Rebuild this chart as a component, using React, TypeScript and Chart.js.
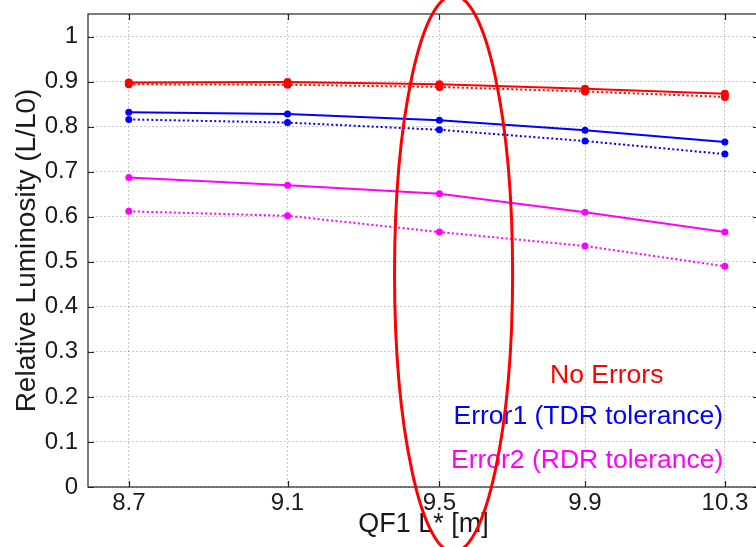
import { useEffect, useRef } from "react";
import { Chart, registerables } from "chart.js";

Chart.register(...registerables);

const xValues = [8.7, 9.1, 9.5, 9.9, 10.3];
const xTickValues = [8.7, 9.1, 9.5, 9.9, 10.3];
const yTickValues = [0, 0.1, 0.2, 0.3, 0.4, 0.5, 0.6, 0.7, 0.8, 0.9, 1];

const noErrorsSolid = [0.898, 0.899, 0.894, 0.884, 0.873];
const noErrorsDotted = [0.894, 0.893, 0.888, 0.878, 0.866];
const error1Solid = [0.832, 0.828, 0.814, 0.792, 0.766];
const error1Dotted = [0.816, 0.809, 0.793, 0.768, 0.739];
const error2Solid = [0.687, 0.67, 0.651, 0.61, 0.566];
const error2Dotted = [0.612, 0.602, 0.566, 0.535, 0.49];

const seriesColors = ["#ff0000", "#0000ff", "#ff00ff"];
const legendLabels = ["No Errors", "Error1 (TDR tolerance)", "Error2 (RDR tolerance)"];
const legendX = [9.961, 9.909, 9.906];
const legendY = [0.248, 0.155, 0.058];

// highlight ellipse bounds in data units: [xMin, xMax], [yMin, yMax]
const ellipseX = [9.38, 9.699];
const ellipseY = [-0.144, 1.091];

const FONT = "'Liberation Sans', Arial, Helvetica, sans-serif";

const toPoints = (ys: number[]) => ys.map((y, i) => ({ x: xValues[i], y }));

const overlayPlugin = {
  id: "overlay",
  afterDraw(chart: any) {
    const { ctx, chartArea, scales } = chart;
    const xs = scales.x;
    const ys = scales.y;
    ctx.save();
    // frame
    ctx.strokeStyle = "#262626";
    ctx.lineWidth = 1.2;
    ctx.strokeRect(chartArea.left, chartArea.top, chartArea.right - chartArea.left, chartArea.bottom - chartArea.top);
    // inward ticks
    const tl = 6;
    ctx.beginPath();
    xTickValues.forEach((v) => {
      const px = Math.round(xs.getPixelForValue(v)) + 0.5;
      ctx.moveTo(px, chartArea.bottom);
      ctx.lineTo(px, chartArea.bottom - tl);
      ctx.moveTo(px, chartArea.top);
      ctx.lineTo(px, chartArea.top + tl);
    });
    yTickValues.forEach((v) => {
      const py = Math.round(ys.getPixelForValue(v)) + 0.5;
      ctx.moveTo(chartArea.left, py);
      ctx.lineTo(chartArea.left + tl, py);
      ctx.moveTo(chartArea.right, py);
      ctx.lineTo(chartArea.right - tl, py);
    });
    ctx.stroke();

    // legend texts
    ctx.font = `26.5px ${FONT}`;
    ctx.textAlign = "center";
    ctx.textBaseline = "middle";
    legendLabels.forEach((t, i) => {
      ctx.fillStyle = seriesColors[i];
      ctx.fillText(t, xs.getPixelForValue(legendX[i]), ys.getPixelForValue(legendY[i]));
    });

    // ellipse annotation
    const x0 = xs.getPixelForValue(ellipseX[0]);
    const x1 = xs.getPixelForValue(ellipseX[1]);
    const y0 = ys.getPixelForValue(ellipseY[1]);
    const y1 = ys.getPixelForValue(ellipseY[0]);
    ctx.beginPath();
    ctx.ellipse((x0 + x1) / 2, (y0 + y1) / 2, (x1 - x0) / 2, (y1 - y0) / 2, 0, 0, Math.PI * 2);
    ctx.strokeStyle = "#ff0000";
    ctx.lineWidth = 3;
    ctx.stroke();
    ctx.restore();
  },
};

export default function App() {
  const ref = useRef<HTMLCanvasElement | null>(null);

  useEffect(() => {
    document.body.style.margin = "0";
    document.body.style.overflow = "hidden";
    if (!ref.current) return;

    const mk = (label: string, data: number[], color: string, dotted: boolean, r: number) => ({
      label,
      data: toPoints(data),
      borderColor: color,
      backgroundColor: color,
      borderWidth: 2,
      borderDash: dotted ? [2, 2.5] : [],
      pointRadius: r,
      pointBorderWidth: 0,
      pointBackgroundColor: color,
      tension: 0,
    });

    const chart = new Chart(ref.current, {
      type: "line",
      data: {
        datasets: [
          mk("No Errors", noErrorsSolid, seriesColors[0], false, 4),
          mk("No Errors (dotted)", noErrorsDotted, seriesColors[0], true, 4),
          mk("Error1", error1Solid, seriesColors[1], false, 3.5),
          mk("Error1 (dotted)", error1Dotted, seriesColors[1], true, 3.5),
          mk("Error2", error2Solid, seriesColors[2], false, 3.5),
          mk("Error2 (dotted)", error2Dotted, seriesColors[2], true, 3.5),
        ],
      },
      options: {
        responsive: false,
        animation: false,
        layout: { padding: { top: 14, right: 2, left: 0, bottom: 0 } },
        plugins: {
          legend: { display: false },
          tooltip: { enabled: false },
          title: { display: false },
        },
        scales: {
          x: {
            type: "logarithmic",
            min: 8.6,
            max: 10.4,
            afterBuildTicks: (s: any) => {
              s.ticks = xTickValues.map((v) => ({ value: v }));
            },
            afterFit: (s: any) => {
              s.height = 60;
              s.paddingLeft = 0;
              s.paddingRight = 0;
            },
            grid: {
              color: "rgba(0,0,0,0.22)",
              lineWidth: 1,
              drawTicks: false,
            },
            border: { display: false, dash: [2, 2] },
            ticks: {
              autoSkip: false,
              maxRotation: 0,
              padding: 2,
              color: "#1a1a1a",
              font: { family: FONT, size: 24 },
              callback: (v: any) => String(Math.round(Number(v) * 10) / 10),
            },
            title: {
              display: true,
              text: "QF1 L* [m]",
              color: "#1a1a1a",
              font: { family: FONT, size: 27 },
              padding: { top: 0, bottom: 6 },
            },
          },
          y: {
            type: "linear",
            min: 0,
            max: 1.05,
            afterBuildTicks: (s: any) => {
              s.ticks = yTickValues.map((v) => ({ value: v }));
            },
            afterFit: (s: any) => {
              s.width = 88;
              s.paddingTop = 0;
              s.paddingBottom = 0;
            },
            grid: {
              color: "rgba(0,0,0,0.22)",
              lineWidth: 1,
              drawTicks: false,
            },
            border: { display: false, dash: [2, 2] },
            ticks: {
              padding: 10,
              color: "#1a1a1a",
              font: { family: FONT, size: 24 },
              callback: (v: any) => String(Math.round(Number(v) * 10) / 10),
            },
            title: {
              display: true,
              text: "Relative Luminosity (L/L0)",
              color: "#1a1a1a",
              font: { family: FONT, size: 28 },
              padding: { top: 10, bottom: 0 },
            },
          },
        },
      },
      plugins: [overlayPlugin],
    });

    return () => chart.destroy();
  }, []);

  return (
    <div style={{ width: 756, height: 547, overflow: "hidden" }}>
      <canvas ref={ref} width={763} height={547} style={{ display: "block" }} />
    </div>
  );
}
